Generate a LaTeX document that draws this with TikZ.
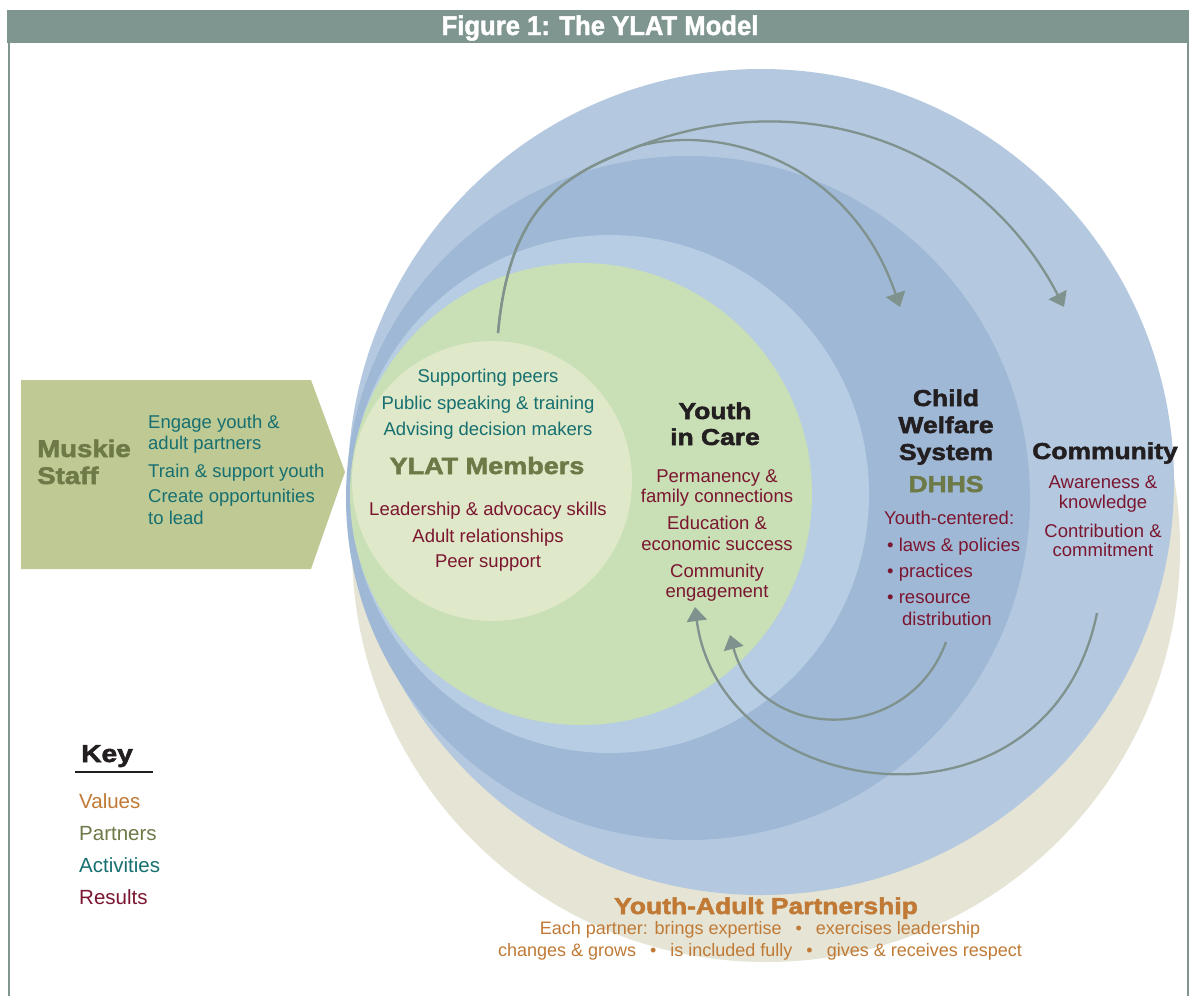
\documentclass[tikz,border=0pt]{standalone}
\usepackage{fontspec}
\setmainfont{Liberation Sans}
\newfontfamily\heavyf[FakeStretch=1.15,BoldFeatures={FakeBold=2.2}]{Liberation Sans}
\newfontfamily\titlef[FakeStretch=0.95,BoldFeatures={FakeBold=1.6}]{Liberation Sans}
\usetikzlibrary{arrows.meta}
\definecolor{barc}{RGB}{127,149,143}
\definecolor{beige}{RGB}{229,228,213}
\definecolor{cone}{RGB}{180,201,224}
\definecolor{ctwo}{RGB}{159,184,213}
\definecolor{cthree}{RGB}{182,205,227}
\definecolor{cfour}{RGB}{201,223,181}
\definecolor{cfive}{RGB}{223,232,200}
\definecolor{penta}{RGB}{190,201,148}
\definecolor{olive}{RGB}{109,122,72}
\definecolor{actc}{RGB}{22,111,112}
\definecolor{resc}{RGB}{123,22,48}
\definecolor{valc}{RGB}{192,122,53}
\definecolor{arrc}{RGB}{127,146,141}
\definecolor{blk}{RGB}{35,31,32}
\begin{document}
\begin{tikzpicture}[x=1pt,y=-1pt,
  txt/.style={inner sep=0pt,anchor=base,font=\fontsize{18.5}{20}\selectfont},
  act/.style={txt,text=actc},
  res/.style={txt,text=resc},
  hv/.style={inner sep=0pt,anchor=base,font=\heavyf\bfseries\fontsize{23}{24}\selectfont,text=blk},
  conn/.style={draw=arrc,line width=2.3pt,-{Triangle[width=20pt,length=14pt]}},
  keyt/.style={inner sep=0pt,anchor=base west,font=\fontsize{20.5}{22}\selectfont},
  bot/.style={inner sep=0pt,anchor=base,font=\fontsize{18}{19}\selectfont,text=valc}
]
\fill[white] (0,0) rectangle (1191,996);
\useasboundingbox (0,0) rectangle (1191,996);
% frame
\fill[barc] (7,10) rectangle (1189,43);
\draw[barc,line width=2pt] (8.5,43) -- (8.5,996);
\draw[barc,line width=2pt] (1187.5,43) -- (1187.5,996);
\node[inner sep=0pt,anchor=base,text=white,font=\titlef\bfseries\fontsize{27}{28}\selectfont] (title) at (600,35) {Figure 1: The YLAT Model};
% left pentagon
\fill[penta] (21,380) -- (311,380) -- (345,472) -- (311,569) -- (21,569) -- cycle;
% circles
\fill[beige] (766,548) circle[radius=414pt];
\fill[cone] (761,482) circle[radius=413pt];
\fill[ctwo] (688,498) circle[radius=342pt];
\fill[cthree] (610,494) circle[radius=259pt];
\fill[cfour] (581,494) circle[radius=231pt];
\fill[cfive] (492,481) circle[radius=140pt];
% arrows
\coordinate (s1) at (498,333);
\coordinate (sp) at (639,146);
\coordinate (t1) at (900,307);
\coordinate (t2) at (1064,307);
\coordinate (s3) at (946,642);
\coordinate (t3) at (730,635);
\coordinate (s4) at (1097,613);
\coordinate (t4) at (695,607);
\draw[conn] (s1) .. controls (510,200) and (569,173) .. (sp) .. controls (720,124) and (850,160) .. (t1);
\draw[conn] (s1) .. controls (510,200) and (569,173) .. (sp) .. controls (807,82) and (981,147) .. (t2);
\draw[conn] (s3) .. controls (908,746) and (759,743) .. (t3);
\draw[conn] (s4) .. controls (1049,848) and (721,805) .. (t4);
% Muskie staff
\node[hv,anchor=base west,text=olive,font=\heavyf\bfseries\fontsize{24}{25}\selectfont] (mu1) at (37,457) {Muskie};
\node[hv,anchor=base west,text=olive,font=\heavyf\bfseries\fontsize{24}{25}\selectfont] (mu2) at (37,484) {Staff};
\foreach \t/\yy [count=\i] in {{Engage youth \&}/428,{adult partners}/449,{Train \& support youth}/477,{Create opportunities}/502,{to lead}/524}
  \node[act,anchor=base west] (ma\i) at (148,\yy) {\t};
% YLAT members
\foreach \t/\yy [count=\i] in {{Supporting peers}/382,{Public speaking \& training}/409,{Advising decision makers}/435}
  \node[act] (ya\i) at (488,\yy) {\t};
\node[hv,text=olive,font=\heavyf\bfseries\fontsize{23.5}{25}\selectfont] (ylat) at (487,474) {YLAT Members};
\foreach \t/\yy [count=\i] in {{Leadership \& advocacy skills}/515,{Adult relationships}/542,{Peer support}/567}
  \node[res] (yr\i) at (488,\yy) {\t};
% Youth in care
\node[hv] (yc1) at (715,419) {Youth};
\node[hv] (yc2) at (715,445) {in Care};
\foreach \t/\yy [count=\i] in {{Permanency \&}/482,{family connections}/502,{Education \&}/529,{economic success}/550,{Community}/577,{engagement}/597}
  \node[res] (ycr\i) at (717,\yy) {\t};
% Child welfare
\node[hv] (cw1) at (946,406) {Child};
\node[hv] (cw2) at (946,433) {Welfare};
\node[hv] (cw3) at (946,460) {System};
\node[hv,text=olive] (dhhs) at (946,492) {DHHS};
\node[res,anchor=base west] (cwr1) at (884,524) {Youth-centered:};
\node[res,anchor=base west] (cwr2) at (887,551) {• laws \& policies};
\node[res,anchor=base west] (cwr3) at (887,577) {• practices};
\node[res,anchor=base west] (cwr4) at (887,603) {• resource};
\node[res,anchor=base west] (cwr5) at (902,625) {distribution};
% Community
\node[hv] (com) at (1105,459) {Community};
\foreach \t/\yy [count=\i] in {{Awareness \&}/488,{knowledge}/508,{Contribution \&}/537,{commitment}/556}
  \node[res] (comr\i) at (1103,\yy) {\t};
% Key
\node[hv,anchor=base west,font=\heavyf\bfseries\fontsize{24.5}{25}\selectfont] (key) at (81,762) {Key};
\coordinate (ul1) at (75,772);
\coordinate (ul2) at (153,772);
\draw[blk,line width=1.5pt] (ul1) -- (ul2);
\node[keyt,text=valc] (k1) at (79,808) {Values};
\node[keyt,text=olive] (k2) at (79,840) {Partners};
\node[keyt,text=actc] (k3) at (79,872) {Activities};
\node[keyt,text=resc] (k4) at (79,904) {Results};
% bottom
\node[hv,text=valc] (yap) at (766,914) {Youth-Adult Partnership};
\node[bot] (b1) at (760,934) {Each partner: brings expertise\hspace{14pt}•\hspace{14pt}exercises leadership};
\node[bot] (b2) at (760,956) {changes \& grows\hspace{14pt}•\hspace{14pt}is included fully\hspace{14pt}•\hspace{14pt}gives \& receives respect};
\end{tikzpicture}
\end{document}
